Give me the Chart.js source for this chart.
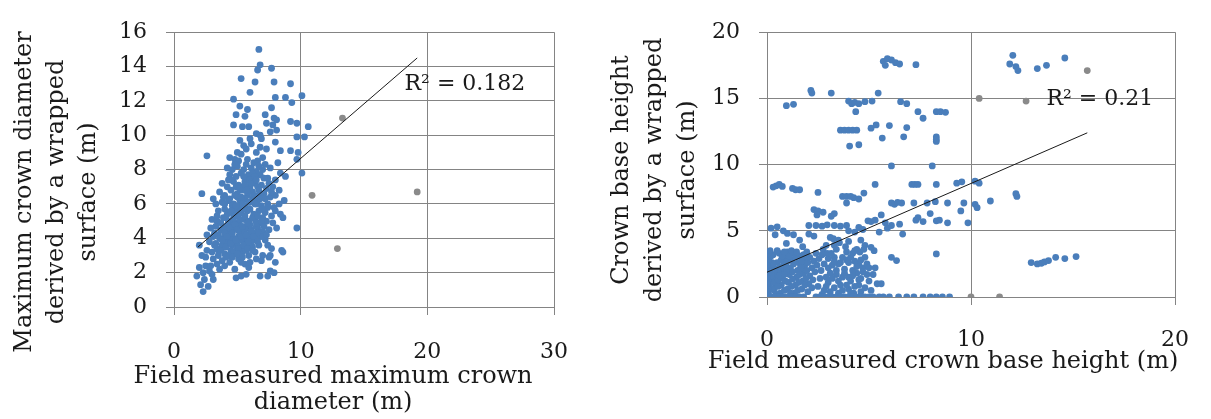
<!DOCTYPE html>
<html>
<head>
<meta charset="utf-8">
<script src="https://cdn.jsdelivr.net/npm/chart.js@4"></script>
<style>
    body { margin: 0; background: #fff; }
    #wrap { position: relative; width: 1211px; height: 419px; }
    canvas { position: absolute; top: 0; }
    #diameterChart { left: 0; }
    #baseChart { left: 600px; }
</style>
</head>
<body>
<div id="wrap">
    <canvas id="diameterChart" width="600" height="419"></canvas>
    <canvas id="baseChart" width="611" height="419"></canvas>
</div>
<script>
// Left plot: field measured max crown diameter (x) vs wrapped-surface diameter (y)
const diameterPoints = [
    [6.7,15.0],[6.8,14.1],[6.6,13.8],[7.7,13.9],[5.3,13.3],[6.4,13.1],[7.9,13.1],[9.2,13.0],[6.0,12.5],[4.7,12.1],
    [10.1,12.3],[8.0,12.2],[8.8,12.2],[9.3,11.9],[5.2,11.7],[5.8,11.5],[7.7,11.6],[4.9,11.2],[5.6,11.1],[7.2,11.2],
    [7.9,11.0],[8.1,10.9],[4.7,10.6],[5.4,10.5],[5.9,10.5],[7.3,10.7],[7.8,10.6],[9.2,10.8],[9.7,10.7],[10.6,10.5],
    [6.5,10.1],[6.8,10.0],[6.9,9.8],[7.6,10.2],[8.1,10.3],[5.2,9.7],[6.0,9.8],[5.5,9.4],[9.7,9.9],[10.3,9.9],
    [8.0,9.6],[5.7,9.2],[6.8,9.3],[7.3,9.2],[8.4,9.1],[9.2,9.1],[9.8,9.0],[2.6,8.8],[4.4,8.7],[4.8,8.6],
    [5.1,8.5],[5.8,8.6],[6.6,8.5],[7.2,8.3],[8.2,8.4],[9.7,8.6],[10.1,7.8],[8.4,7.8],[2.2,6.6],[3.1,6.3],[9.7,4.6],
    [4.2,8.1],[4.6,8.0],[5.0,8.2],[5.5,8.0],[6.1,8.1],[6.5,7.9],[7.0,8.0],[7.6,8.1],[4.4,7.7],[4.9,7.6],
    [5.3,7.8],[5.9,7.7],[6.3,7.6],[6.8,7.7],[7.4,7.5],[8.0,7.4],[8.8,7.6],
    [3.8,7.2],[4.2,7.0],[4.7,7.3],[5.1,7.1],[5.6,7.3],[6.0,7.0],[6.4,7.2],[6.9,7.1],[7.3,6.9],[7.8,7.0],
    [8.3,6.8],[3.6,6.7],[4.0,6.5],[4.5,6.8],[5.0,6.6],[5.4,6.8],[5.8,6.5],[6.2,6.7],[6.7,6.5],[7.1,6.6],
    [7.6,6.4],[8.0,6.5],[8.7,6.2],
    [3.3,6.0],[3.8,6.1],[4.3,6.2],[4.7,6.0],[5.2,6.2],[5.6,5.9],[6.0,6.1],[6.5,6.0],[6.9,5.9],[7.4,6.0],
    [7.9,5.8],[3.5,5.6],[4.0,5.7],[4.4,5.5],[4.9,5.7],[5.3,5.5],[5.8,5.6],[6.3,5.4],[6.7,5.6],[7.2,5.5],
    [7.7,5.3],[8.4,5.4],[8.6,5.2],
    [3.0,5.1],[3.4,5.0],[3.9,5.2],[4.3,5.0],[4.7,5.2],[5.1,4.9],[5.5,5.1],[5.9,5.0],[6.4,5.1],[6.8,4.9],
    [7.3,5.0],[2.9,4.6],[3.3,4.7],[3.7,4.5],[4.1,4.7],[4.5,4.5],[4.9,4.6],[5.3,4.4],[5.7,4.6],[6.1,4.5],
    [6.6,4.6],[7.0,4.4],[7.5,4.5],
    [2.6,4.2],[3.1,4.1],[3.5,4.2],[3.9,4.0],[4.3,4.2],[4.7,4.0],[5.1,4.1],[5.5,3.9],[5.9,4.1],[6.3,3.9],
    [6.8,4.1],[7.2,3.9],[3.3,3.7],[3.8,3.6],[4.2,3.8],[4.6,3.6],[5.0,3.7],[5.4,3.5],[5.8,3.7],[6.2,3.5],
    [6.7,3.6],[7.4,3.6],
    [2.6,3.3],[3.0,3.2],[3.5,3.3],[4.0,3.1],[4.5,3.3],[4.9,3.1],[5.4,3.2],[5.9,3.0],[6.4,3.2],[7.0,3.0],
    [7.6,3.0],[8.6,3.2],[8.5,3.3],[3.1,2.8],[3.8,2.7],[4.4,2.6],[5.1,2.8],[5.6,2.5],[6.9,2.7],[7.5,2.9],
    [2.0,3.6],[2.2,3.0],[1.8,1.8],[2.1,1.3],[2.3,0.9],[2.4,1.6],[2.8,2.1],[3.1,1.6],[2.0,2.3],[2.5,2.4],
    [4.9,1.7],[5.3,1.8],[5.7,1.9],[6.8,1.8],[7.4,1.8],[7.6,2.1],[7.9,2.0],[4.0,2.4],[4.8,2.2],[5.9,2.3],
    [2.3,2.0],[2.7,1.2],[3.0,1.9],
    [4.1,4.4],[4.4,4.9],[4.8,5.4],[5.2,5.8],[5.6,6.3],[6.0,6.8],[4.6,5.9],[5.0,6.4],[5.4,7.0],[5.8,7.4],
    [6.2,7.8],[4.2,5.4],[4.6,4.8],[5.0,5.3],[5.4,6.0],[5.8,6.7],[6.2,6.3],[6.6,7.0],[3.7,4.9],[4.3,4.5],
    [5.2,4.3],[5.6,4.3],[6.0,4.8],[6.4,4.3],[4.5,3.9],[5.0,3.4],[5.3,3.9],[5.7,3.3],[6.1,3.8],[6.5,4.7],
    [4.9,7.0],[4.5,7.4],[5.5,7.6],[6.6,6.2],[7.0,5.2],[7.4,5.8],[6.3,8.4],[5.3,8.9],[6.1,9.5],[6.5,9.0],
    [7.0,8.7],[5.0,9.0],
    [4.0,6.0],[4.4,6.3],[4.8,6.5],[5.2,6.9],[5.6,7.1],[6.0,7.4],[6.4,7.6],[4.1,5.2],[4.5,5.6],[4.9,5.9],
    [5.3,6.4],[5.7,6.8],[6.1,7.2],[6.5,7.4],[3.9,4.6],[4.3,4.8],[4.7,5.0],[5.1,5.4],[5.5,5.7],[5.9,6.1],
    [6.3,6.5],[6.7,6.8],[3.6,4.0],[4.0,4.3],[4.4,4.6],[4.8,4.8],[5.2,5.1],[5.6,5.3],[6.0,5.7],[6.4,6.0],
    [6.8,6.3],[3.4,3.4],[3.8,3.9],[4.2,4.1],[4.6,4.3],[5.0,4.5],[5.4,4.7],[5.8,4.9],[6.2,5.2],[6.6,5.3],
    [7.0,5.7],[3.7,3.3],[4.1,3.5],[4.5,3.7],[4.9,3.9],[5.3,4.1],[5.7,4.2],[6.1,4.4],[6.5,4.9],[6.9,5.0],
    [4.3,3.0],[4.7,3.2],[5.1,3.4],[5.5,3.6],[5.9,3.8],[6.3,4.1],[6.7,4.3],[7.1,4.7],[4.6,2.9],[5.0,3.1],
    [5.4,2.9],[5.8,3.4],[6.2,3.3],[6.6,3.8],[7.0,4.1],[7.3,4.2],[5.3,2.6],[6.0,2.6],[6.5,2.8],[4.1,2.9],
    [3.5,3.0],[3.2,3.6],[7.2,6.3],[7.7,6.7],[7.5,7.2],[7.1,7.5],[6.7,8.2],[5.7,8.3],[4.8,8.3],[4.3,7.4],
    [3.9,6.4],[3.4,5.3],[3.2,4.3],[2.8,3.8],[2.5,2.9],[2.9,2.4],[3.4,2.5],[3.6,2.2],[8.1,4.6],[7.8,4.9],
    [8.0,5.6],[8.3,6.0],[7.7,3.4],[8.0,2.6]
];
const diameterGrey = [[10.9,6.5],[13.3,11.0],[12.9,3.4],[19.2,6.7]];
const diameterTrend = [[1.9,3.5],[19.2,14.5]];
const diameterR2 = "R\u00B2 = 0.182";
const diameterXTicks = [0, 10, 20, 30];
const diameterYTicks = [0, 2, 4, 6, 8, 10, 12, 14, 16];

// Right plot: field measured crown base height (x) vs wrapped-surface base height (y)
const basePoints = [
    [5.7,17.8],[5.9,18.0],[6.1,17.9],[6.3,17.7],[6.5,17.6],[5.8,17.5],[7.3,17.55],
    [12.05,18.25],[11.9,17.6],[12.2,17.4],[12.3,17.1],[13.25,17.25],[13.7,17.5],[14.6,18.05],
    [2.15,15.6],[2.2,15.4],[3.15,15.4],[5.45,15.4],
    [0.95,14.45],[1.3,14.55],[4.0,14.8],[4.15,14.6],[4.3,14.7],[4.5,14.6],[4.8,14.75],[5.15,14.8],[6.55,14.75],
    [6.85,14.6],[7.4,14.0],[8.3,14.0],[8.5,14.0],[8.75,13.95],[4.35,14.0],[7.65,13.5],
    [3.6,12.6],[3.8,12.6],[4.0,12.6],[4.2,12.6],[4.4,12.6],[5.1,12.75],[5.35,13.0],[6.0,12.95],[5.65,12.0],
    [6.7,12.1],[6.85,12.8],[8.3,12.1],[8.3,11.75],[4.05,11.4],[4.5,11.5],
    [6.1,9.9],[8.1,9.9],
    [0.3,8.3],[0.45,8.4],[0.6,8.5],[0.75,8.35],[1.25,8.2],[1.4,8.1],[1.6,8.1],[2.5,7.9],[5.3,8.5],[7.1,8.5],
    [7.25,8.5],[7.4,8.5],[8.3,8.5],[9.3,8.6],[9.55,8.7],[10.2,8.75],[10.4,8.6],
    [3.7,7.6],[3.9,7.6],[4.1,7.6],[4.25,7.5],[3.9,7.1],[4.5,7.4],[4.75,7.85],[6.1,7.1],[6.25,7.0],[6.4,7.15],
    [6.6,7.1],[7.2,7.1],[7.85,7.1],[8.25,7.2],[8.85,7.1],[9.65,7.1],[10.2,7.0],[10.3,6.75],[10.95,7.25],
    [12.25,7.6],[12.2,7.8],
    [2.3,6.6],[2.5,6.5],[2.75,6.4],[2.45,6.2],[3.15,6.1],[3.3,6.3],[2.05,5.4],[2.4,5.4],[2.7,5.35],[2.95,5.45],
    [3.3,5.4],[3.6,5.35],[3.9,5.4],[4.5,5.25],[4.95,5.75],[5.1,5.7],[5.3,5.8],[5.8,5.6],[6.1,5.4],[6.5,5.5],
    [6.65,4.75],[7.3,5.8],[7.65,5.7],[8.3,5.75],[8.45,5.8],[8.85,5.6],[9.85,5.6],[9.5,6.5],[8.0,6.3],[5.6,6.2],
    [7.4,6.0],
    [5.25,3.5],[5.1,3.75],[6.1,3.0],[6.35,2.75],[8.3,3.25],[4.0,5.0],[4.3,4.9],[4.7,5.1],[3.5,4.3],[3.1,4.5],
    [3.3,3.9],[4.0,4.2],[4.6,4.3],[4.8,3.9],[5.5,4.9],[5.9,5.2],[4.2,3.3],[3.9,2.8],[4.5,2.5],[4.9,1.7],
    [5.2,1.7],[5.4,1.0],[5.6,1.0],[4.4,1.8],[4.0,1.5],
    [12.95,2.6],[13.25,2.5],[13.45,2.55],[13.6,2.65],[13.8,2.75],[14.15,3.0],[14.6,2.9],[15.15,3.05],
    [0.2,5.2],[0.5,5.3],[0.8,5.0],[1.0,4.8],[0.4,4.7],[0.95,4.05],[1.3,4.7],[2.05,4.75],[2.3,4.6],[1.6,4.3],
    [1.75,3.8],
    [0.05,0.3],[0.1,0.8],[0.15,1.3],[0.1,1.8],[0.2,2.3],[0.1,2.9],[0.3,3.2],[0.35,0.5],[0.4,1.0],[0.45,1.6],
    [0.4,2.1],[0.5,2.6],[0.6,3.3],[0.65,0.3],[0.7,0.9],[0.75,1.4],[0.8,2.0],[0.85,2.5],[0.9,3.0],[1.0,3.4],
    [1.0,0.6],[1.05,1.1],[1.1,1.7],[1.15,2.2],[1.2,2.8],[1.3,3.3],[1.35,0.3],[1.4,0.9],[1.45,1.5],[1.5,2.0],
    [1.55,2.6],[1.6,3.1],[1.7,0.6],[1.75,1.2],[1.8,1.8],[1.85,2.4],[1.9,2.9],[2.0,0.4],[2.05,1.0],[2.1,1.6],
    [2.2,2.2],[2.3,2.7],[2.4,3.3],[2.5,0.8],[2.6,1.4],[2.65,2.0],[0.25,2.6],[0.55,1.85],[1.25,1.35],[1.65,2.3],
    [0.95,1.95],[0.3,1.5],[1.95,3.4],[2.75,3.6],[2.9,3.9],
    [2.8,0.5],[3.0,1.1],[3.1,1.8],[3.2,2.4],[3.3,3.0],[3.4,3.6],[3.5,0.3],[3.6,0.9],[3.7,1.5],[3.8,2.1],
    [3.9,3.4],[4.0,0.6],[4.1,1.2],[4.2,2.0],[4.3,2.7],[4.4,3.6],[4.5,0.9],[4.6,1.4],[4.7,2.2],[4.8,3.0],
    [3.6,2.6],[3.0,2.9],[2.8,2.5],[3.4,1.7],[4.25,0.3],[3.55,4.1],[3.25,4.4],[2.95,3.3],[4.55,3.4],
    [0.1,0.1],[0.25,0.6],[0.3,1.1],[0.2,1.6],[0.35,2.0],[0.3,2.5],[0.2,3.1],[0.45,0.2],[0.55,0.8],[0.55,1.3],
    [0.6,1.6],[0.65,2.3],[0.7,2.8],[0.75,3.1],[0.85,0.5],[0.9,1.2],[0.85,1.7],[0.95,2.3],[1.0,2.7],[1.1,3.1],
    [1.15,0.3],[1.2,0.8],[1.25,1.9],[1.3,2.5],[1.4,3.0],[1.5,0.5],[1.55,1.1],[1.6,1.7],[1.7,2.2],[1.7,2.7],
    [1.8,3.2],[1.85,0.9],[1.9,1.4],[1.95,2.0],[2.0,2.6],[2.1,3.0],[2.2,0.7],[2.25,1.3],[2.35,1.9],[2.45,2.4],
    [2.55,2.9],[0.05,0.6],[0.05,1.2],[0.05,2.7],[0.05,3.3],[0.15,3.5],[0.5,3.5],[0.85,3.4],[1.2,3.5],[1.45,3.4],
    [2.7,0.2],[2.9,0.8],[3.1,0.4],[3.2,1.4],[3.3,0.7],[3.4,2.0],[3.5,1.2],[3.7,0.5],[3.8,1.8],[3.9,0.9],
    [4.0,2.6],[4.1,0.3],[4.2,1.6],[4.3,0.8],[4.4,2.3],[4.5,1.3],[4.6,0.4],[4.7,1.9],[4.8,0.7],[4.9,2.5],
    [5.0,1.2],[5.1,0.5],[2.9,1.5],[3.0,2.2],[3.5,2.5],[3.3,2.7],[2.7,3.2],[3.7,3.0],[4.1,3.0],[4.6,2.8],
    [5.0,2.2],[3.15,3.3],[3.85,3.8],[4.3,3.5],[4.75,3.6],[5.3,2.2],
    [0,0],[0.2,0],[0.4,0],[0.6,0],[0.8,0],[1.0,0],[1.2,0],[1.4,0],[1.6,0],[1.8,0],[2.4,0],[2.6,0],[2.8,0],
    [3.0,0],[3.2,0],[3.4,0],[3.6,0],[3.8,0],[4.0,0],[4.2,0],[4.4,0],[4.6,0],[4.8,0],[5.0,0],[5.2,0],[5.5,0],
    [5.7,0],[6.0,0],[6.45,0],[6.85,0],[7.2,0],[7.65,0],[8.0,0],[8.3,0],[8.6,0],[8.95,0],
    [0,0.4],[0,1.0],[0,1.5],[0,2.0],[0,2.4],[8.3,11.9]
];
const baseGrey = [[15.7,17.1],[10.4,15.0],[12.7,14.8],[10.0,0],[11.4,0]];
const baseTrend = [[0,1.87],[15.7,12.4]];
const baseR2 = "R\u00B2 = 0.21";
const baseXTicks = [0, 10, 20];
const baseYTicks = [0, 5, 10, 15, 20];

const BLUE = '#4a7ebb';
const GREY = '#8a8a8a';
const GRID = '#848484';
const INK = '#1a1a1a';

Chart.defaults.font.family = "'DejaVu Serif', serif";
Chart.defaults.color = INK;

const toXY = p => ({ x: p[0], y: p[1] });

// draws the axis titles and the R² note
const axisTitles = {
    id: 'axisTitles',
    afterDraw(chart, args, opts) {
        const ctx = chart.ctx;
        ctx.save();
        ctx.fillStyle = INK;
        ctx.font = '24px "DejaVu Serif"';
        ctx.textAlign = 'center';
        ctx.textBaseline = 'middle';
        opts.yLines.forEach((t, i) => {
            ctx.save();
            ctx.translate(opts.yX[i], opts.yMid);
            ctx.rotate(-Math.PI / 2);
            ctx.fillText(t, 0, 0);
            ctx.restore();
        });
        opts.xLines.forEach((t, i) => ctx.fillText(t, opts.xMid, opts.xY[i]));
        ctx.font = '22px "DejaVu Serif"';
        ctx.textAlign = 'left';
        ctx.fillText(opts.r2, chart.scales.x.getPixelForValue(opts.r2At[0]),
            chart.scales.y.getPixelForValue(opts.r2At[1]));
        ctx.restore();
    }
};

function makeChart(id, pts, grey, trend, xTicks, yTicks, box, titles) {
    return new Chart(document.getElementById(id).getContext('2d'), {
        type: 'scatter',
        data: {
            datasets: [
                {
                    data: trend.map(toXY),
                    showLine: true,
                    borderColor: INK,
                    borderWidth: 1,
                    pointRadius: 0
                },
                {
                    data: grey.map(toXY),
                    backgroundColor: GREY,
                    borderWidth: 0,
                    pointRadius: 3.4
                },
                {
                    data: pts.map(toXY),
                    backgroundColor: BLUE,
                    borderWidth: 0,
                    pointRadius: 3.4
                }
            ]
        },
        options: {
            responsive: false,
            animation: false,
            devicePixelRatio: 1,
            layout: { padding: { left: 0, top: box.top, right: box.right, bottom: 0 } },
            plugins: {
                legend: { display: false },
                tooltip: { enabled: false },
                axisTitles: titles
            },
            scales: {
                x: {
                    type: 'linear',
                    min: xTicks[0],
                    max: xTicks[xTicks.length - 1],
                    afterBuildTicks: s => { s.ticks = xTicks.map(v => ({ value: v })); },
                    afterFit: s => { s.height = box.xHeight; },
                    grid: { color: GRID, tickLength: 8 },
                    border: { color: GRID },
                    ticks: { font: { size: 22 }, padding: box.xPad, maxRotation: 0 }
                },
                y: {
                    type: 'linear',
                    min: yTicks[0],
                    max: yTicks[yTicks.length - 1],
                    afterBuildTicks: s => { s.ticks = yTicks.map(v => ({ value: v })); },
                    afterFit: s => { s.width = box.yWidth; },
                    grid: { color: GRID, tickLength: 8 },
                    border: { color: GRID },
                    ticks: { font: { size: 22 }, padding: 19 }
                }
            }
        },
        plugins: [axisTitles]
    });
}

makeChart('diameterChart', diameterPoints, diameterGrey, diameterTrend, diameterXTicks, diameterYTicks,
    { top: 18, right: 46, xHeight: 112, yWidth: 174, xPad: 24 },
    {
        yLines: ['Maximum crown diameter', 'derived by a wrapped', 'surface (m)'],
        yX: [25, 57, 89], yMid: 192,
        xLines: ['Field measured maximum crown', 'diameter (m)'],
        xMid: 333, xY: [377, 403],
        r2: diameterR2, r2At: [18.2, 12.95]
    });

makeChart('baseChart', basePoints, baseGrey, baseTrend, baseXTicks, baseYTicks,
    { top: 30, right: 20, xHeight: 122, yWidth: 167, xPad: 22 },
    {
        yLines: ['Crown base height', 'derived by a wrapped', 'surface (m)'],
        yX: [22, 55, 88], yMid: 170,
        xLines: ['Field measured crown base height (m)'],
        xMid: 343, xY: [362],
        r2: baseR2, r2At: [13.7, 14.9]
    });
</script>
</body>
</html>
